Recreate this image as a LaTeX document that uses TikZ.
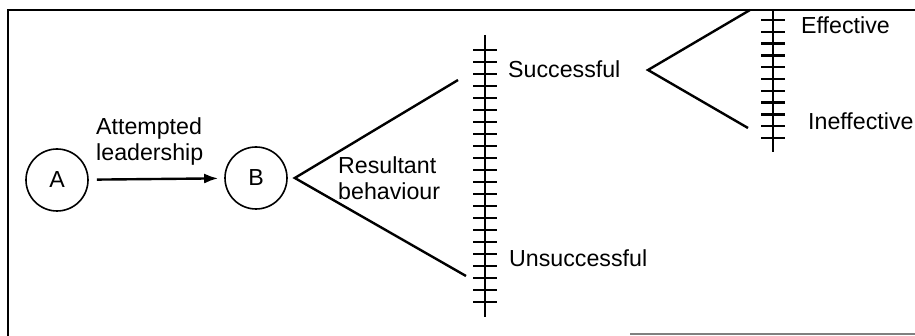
\documentclass[tikz,border=0pt]{standalone}
\usepackage{fontspec}
\setmainfont{Liberation Sans}
\usetikzlibrary{arrows.meta,positioning,calc}

\begin{document}
\begin{tikzpicture}[x=0.5pt,y=-0.5pt,line width=1.2pt,
  every node/.style={font=\fontsize{11.6}{13.2}\selectfont,inner sep=0pt},
  actor/.style={draw,circle,line width=0.8pt,minimum size=31pt},
  lbl/.style={anchor=base west},
  twolbl/.style={anchor=north west,align=left}]
  \useasboundingbox (0,0) rectangle (915,336);
  % frame
  \draw (8,336) -- (8,10) -- (915,10);
  \draw[gray,line width=0.6pt] (630,334) -- (915,334);

  \node[actor] (A) at (57,180) {A};
  \node[actor] (B) at (256,178) {B};
  \draw[-{Latex[length=7pt,width=5pt]},shorten <=4pt,shorten >=3pt] (A) -- (B);
  \node[twolbl] (attempt) at (95,116) {Attempted\\leadership};

  % first fork
  \coordinate (fork1) at ([xshift=3.5pt]B.east);
  \coordinate (succEnd) at (458,80);
  \coordinate (unsuccEnd) at (466,276);
  \draw (succEnd) -- (fork1) -- (unsuccEnd);
  \node[twolbl] (result) at (337,155) {Resultant\\behaviour};

  % first scale
  \draw (485,35) -- (485,317);
  \foreach \k in {0,...,21}{
    \draw (473,{50+12*\k}) -- (497,{50+12*\k});
  }
  \node[lbl] (succ) at (507,78) {Successful};
  \node[lbl] (unsucc) at (508,267) {Unsuccessful};

  % second fork
  \coordinate (fork2) at (648,70);
  \coordinate (effEnd) at (750,10);
  \coordinate (ineffEnd) at (748,128);
  \draw (effEnd) -- (fork2) -- (ineffEnd);

  % second scale
  \draw (773,10) -- (773,152);
  \foreach \k in {0,...,10}{
    \draw (761,{20+11.8*\k}) -- (785,{20+11.8*\k});
  }
  \node[lbl] (eff) at (800,34) {Effective};
  \node[lbl] (ineff) at (807,130) {Ineffective};
\end{tikzpicture}
\end{document}
